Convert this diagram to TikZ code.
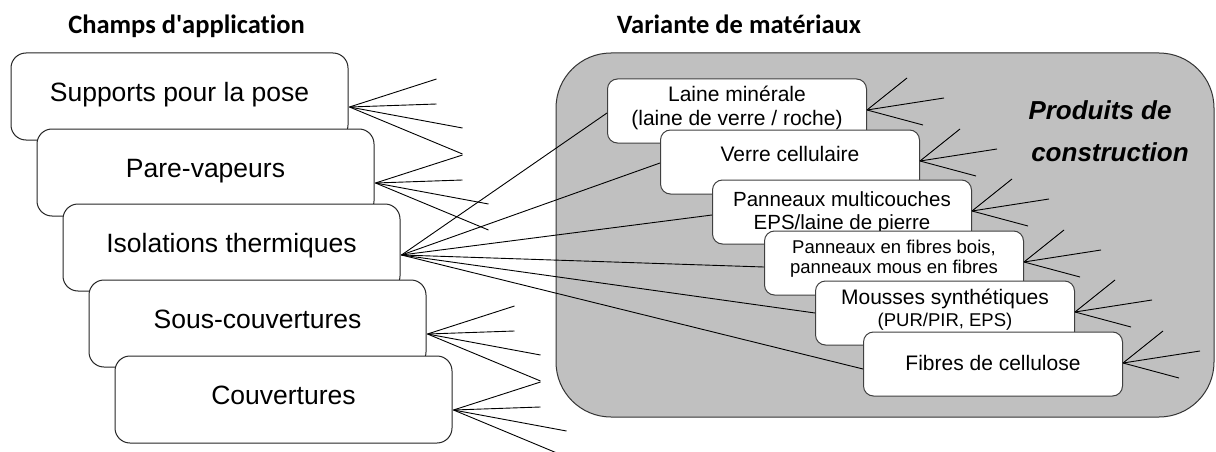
\documentclass[tikz,border=0pt]{standalone}
\usepackage{fontspec}
\setmainfont{Liberation Sans}
\newfontfamily\calibri{Carlito}[Ligatures=NoCommon]
\usetikzlibrary{calc}
\definecolor{panel}{RGB}{192,192,192}
\begin{document}
\begin{tikzpicture}[x=1pt,y=-1pt,
  leftbox/.style={draw=black!85, line width=1pt, fill=white, rounded corners=15pt,
    minimum width=337pt, minimum height=87pt, inner sep=0pt,
    font=\fontsize{26.5}{30}\selectfont, text height=20pt, text depth=10pt},
  rightbox/.style={draw=black!75, line width=1pt, fill=white, rounded corners=10pt,
    minimum width=259pt, minimum height=64pt, inner sep=0pt},
  rtext/.style={anchor=base, inner sep=0pt, font=\fontsize{21}{24}\selectfont},
  rmid/.style={anchor=base, inner sep=0pt, font=\fontsize{20.5}{24}\selectfont},
  rsmall/.style={anchor=base, inner sep=0pt, font=\fontsize{18.5}{21}\selectfont},
  conn/.style={line width=0.9pt, black},
  titletext/.style={anchor=base, inner sep=0pt, font=\calibri\bfseries\fontsize{26.5}{30}\selectfont},
  bigital/.style={anchor=base, inner sep=0pt, font=\bfseries\itshape\fontsize{26}{30}\selectfont}
]
\useasboundingbox (0,0) rectangle (1216,452);

% container
\node[draw=black!80, line width=1pt, fill=panel, rounded corners=55pt,
  minimum width=658pt, minimum height=364pt, inner sep=0pt] (cont) at (885,235) {};

% titles
\node[titletext] (t1) at (186.5,33.3) {Champs d\textquotesingle application};
\node[titletext] (t2) at (739,33.3) {Variante de matériaux};
\node[bigital] (p1) at (1100,119.3) {Produits de};
\node[bigital] (p2) at (1110,161.7) {construction};

% left boxes
\node[leftbox] (b1) at (179.5,96.5) {Supports pour la pose};
\node[leftbox] (b2) at (205.5,172.5) {Pare-vapeurs};
\node[leftbox] (b3) at (231.5,247.5) {Isolations thermiques};
\node[leftbox] (b4) at (257.5,323.5) {Sous-couvertures};
\node[leftbox] (b5) at (283.5,399.5) {Couvertures};

% left fans
\foreach \b in {b1,b2,b4,b5}{
  \coordinate (\b o) at ($(\b.east)+(1,10.5)$);
  \foreach \dx/\dy [count=\k] in {87/-28, 87/-3, 113/21, 113/47}{
    \coordinate (\b e\k) at ($(\b o)+(\dx,\dy)$);
    \draw[conn] (\b o) -- (\b e\k);
  }
}

% right boxes
\node[rightbox] (r1) at (737,111) {};
\node[rtext] (r1a) at (737,102) {Laine minérale};
\node[rtext] (r1b) at (737,125) {(laine de verre / roche)};
\node[rightbox] (r2) at (790,162) {};
\node[rtext] (r2a) at (790,161.5) {Verre cellulaire};
\node[rightbox] (r3) at (842,212) {};
\node[rmid] (r3a) at (842,206) {Panneaux multicouches};
\node[rmid] (r3b) at (842,229) {EPS/laine de pierre};
\node[rightbox] (r4) at (894,263) {};
\node[rsmall] (r4a) at (894,253) {Panneaux en fibres bois,};
\node[rsmall] (r4b) at (894,273) {panneaux mous en fibres};
\node[rightbox] (r5) at (945,313) {};
\node[rtext] (r5a) at (945,304) {Mousses synthétiques};
\node[rsmall] (r5b) at (945,326) {(PUR/PIR, EPS)};
\node[rightbox] (r6) at (993,364) {};
\node[rtext] (r6a) at (993,370) {Fibres de cellulose};

% connectors from Isolations thermiques
\coordinate (b3o) at ($(b3.east)+(1,7.5)$);
\foreach \r/\dy in {r1/2, r2/1, r3/3, r4/4, r5/0, r6/5}{
  \draw[conn] (b3o) -- ($(\r.west)+(0,\dy)$);
}

% right fans
\foreach \r in {r1,r2,r3,r4,r5,r6}{
  \coordinate (\r o) at ($(\r.east)+(0,-1)$);
  \foreach \dx/\dy [count=\k] in {40/-32, 77/-12, 56/15}{
    \coordinate (\r e\k) at ($(\r o)+(\dx,\dy)$);
    \draw[conn] (\r o) -- (\r e\k);
  }
}
\end{tikzpicture}
\end{document}
